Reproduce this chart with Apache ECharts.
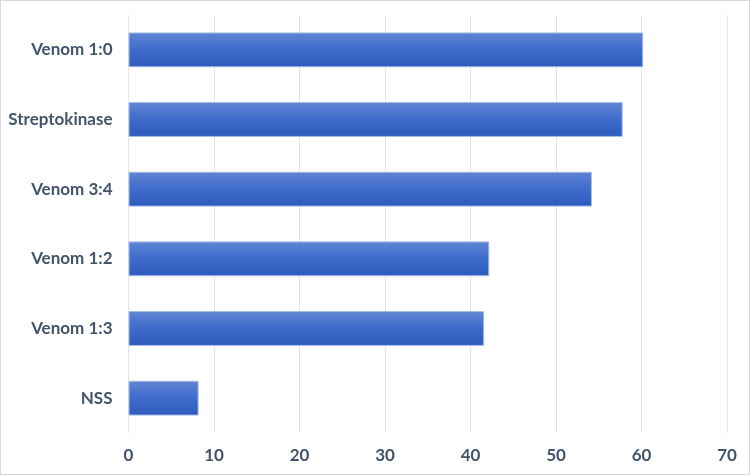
<!DOCTYPE html>
<html><head><meta charset="utf-8">
<script src="https://cdn.jsdelivr.net/npm/echarts@6/dist/echarts.min.js"></script>
<style>html,body{margin:0;padding:0;background:#fff}#c{width:750px;height:475px;box-sizing:border-box;border:1px solid #d9d9d9}</style>
</head><body><div id="c"></div>
<script>
const categories = ['NSS', 'Venom 1:3', 'Venom 1:2', 'Venom 3:4', 'Streptokinase', 'Venom 1:0'];
const values = [8.2, 41.6, 42.2, 54.2, 57.8, 60.2];
const xTicks = {min: 0, max: 70, interval: 10};

const chart = echarts.init(document.getElementById('c'), null, {renderer: 'canvas'});
chart.setOption({
  animation: false,
  grid: {left: 127.5, right: 22, top: 14, bottom: 41, containLabel: false},
  xAxis: {
    type: 'value', min: xTicks.min, max: xTicks.max, interval: xTicks.interval,
    axisLine: {show: false}, axisTick: {show: false},
    splitLine: {lineStyle: {color: '#e2e4ea', width: 1}},
    axisLabel: {color: '#44546a', fontFamily: 'Lato', fontWeight: 'bold', fontSize: 17, margin: 14}
  },
  yAxis: {
    type: 'category', data: categories,
    axisLine: {show: false}, axisTick: {show: false},
    axisLabel: {color: '#44546a', fontFamily: 'Lato', fontWeight: 'bold', fontSize: 17, margin: 16}
  },
  series: [{
    type: 'bar', data: values, barCategoryGap: '50%',
    itemStyle: {
      color: new echarts.graphic.LinearGradient(0, 0, 0, 1, [
        {offset: 0, color: '#6185d3'},
        {offset: 0.5, color: '#3d6ccb'},
        {offset: 1, color: '#2d5bbd'}
      ]),
      borderColor: '#a9bce6', borderWidth: 1
    }
  }]
});
</script></body></html>
